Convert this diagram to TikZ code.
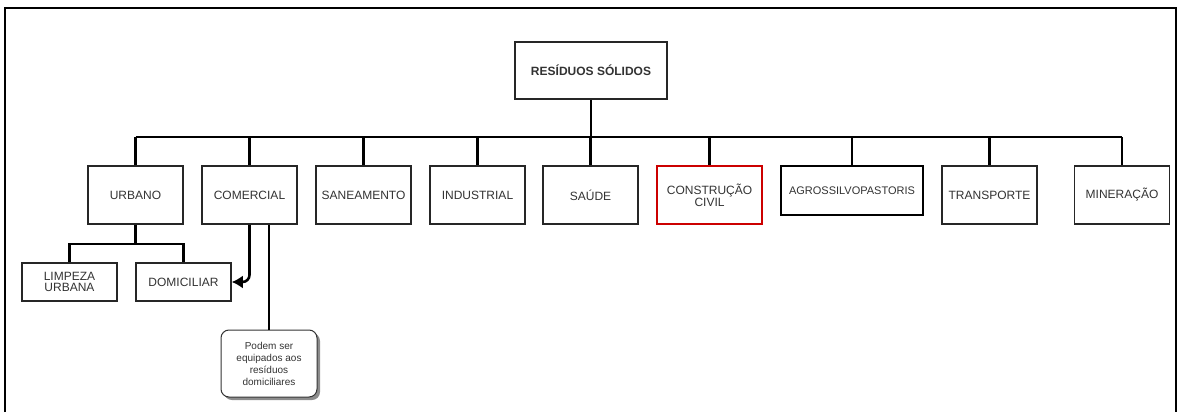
\documentclass[tikz,border=0pt]{standalone}
\usepackage{fontspec}
\setmainfont{Liberation Sans}
\usetikzlibrary{arrows.meta,shadows}
\begin{document}
\begin{tikzpicture}[x=1pt,y=-1pt,
  box/.style={draw=black!85,line width=1.5pt,fill=white,inner sep=0pt,
    minimum width=95pt,minimum height=58pt,align=center,text=black!80,
    font=\fontsize{12}{13}\selectfont},
  link/.style={line width=2.6pt,black},
  note/.style={draw=black!80,line width=1pt,fill=white,rounded corners=8pt,
    inner sep=0pt,minimum width=96pt,minimum height=67pt,align=center,
    text=black!80,font=\fontsize{10}{12}\selectfont,
    drop shadow={shadow xshift=3pt,shadow yshift=-3pt,fill=black!45,opacity=1}}]
\useasboundingbox (0,0) rectangle (1182,412);
% outer frame
\draw[line width=2pt] (5,412) -- (5,8) -- (1176,8) -- (1176,412);

% root
\node[box,minimum width=152pt,minimum height=57pt,
  font=\fontsize{12}{13}\selectfont\bfseries] (root) at (591,70.5) {RESÍDUOS SÓLIDOS};

% categories
\node[box] (urbano) at (135.5,195) {URBANO};
\node[box] (comercial) at (249.5,195) {COMERCIAL};
\node[box] (saneamento) at (363.5,195) {SANEAMENTO};
\node[box] (industrial) at (477.5,195) {INDUSTRIAL};
\node[box] (saude) at (590.5,195) {SAÚDE};
\node[box,draw=red!80!black,minimum width=105pt] (construcao) at (709.5,195) {CONSTRUÇÃO\\[-1pt]CIVIL};
\node[box,draw=black,minimum width=142pt,minimum height=49pt,
  font=\fontsize{11}{12}\selectfont] (agro) at (852,190.5) {AGROSSILVOPASTORIS};
\node[box] (transporte) at (989.5,195) {TRANSPORTE};
\node[box] (mineracao) at (1122,195) {MINERAÇÃO};

% subdivisions of URBANO
\node[box,minimum height=38pt] (limpeza) at (69.5,282) {LIMPEZA\\[-2pt]URBANA};
\node[box,minimum height=38pt] (domiciliar) at (183.5,282) {DOMICILIAR};

% note
\node[note] (nota) at (269,363.5) {Podem ser\\equipados aos\\resíduos\\domiciliares};

% main bus
\coordinate (bus) at (591,137);
\draw[link] (root.south) -- (bus);
\draw[link] (urbano.north |- bus) -- (mineracao.north |- bus);
\foreach \n in {urbano,comercial,saneamento,industrial,saude,construcao,agro,transporte,mineracao}
  \draw[link] (\n.north |- bus) -- (\n.north);

% urban bus
\coordinate (ubus) at (135.5,244);
\draw[link] (urbano.south) -- (ubus);
\draw[link] (limpeza.north) -- (limpeza.north |- ubus) -| (domiciliar.north);

% commercial links
\draw[link,rounded corners=7pt,-{Latex[length=11pt,width=13pt]}]
  (comercial.south) |- (domiciliar.east);
\draw[link] (nota.north |- comercial.south) -- (nota.north);
\end{tikzpicture}
\end{document}
